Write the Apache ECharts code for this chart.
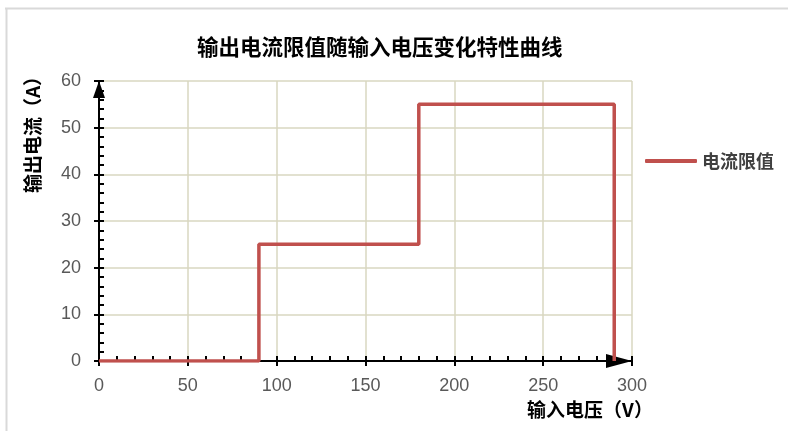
<!DOCTYPE html>
<html>
<head>
<meta charset="utf-8">
<script src="https://cdn.jsdelivr.net/npm/echarts@6/dist/echarts.min.js"></script>
<style>
  html, body { margin: 0; padding: 0; background: #fff; }
  #chart { width: 788px; height: 431px; }
</style>
</head>
<body>
<div id="chart"></div>
<script>
// 数据
var voltage = [0, 90, 90, 180, 180, 290, 290];
var current = [0, 0, 25, 25, 55, 55, 0];
var seriesName = '电流限值';
var titleText = '输出电流限值随输入电压变化特性曲线';
var xName = '输入电压（V）';
var yName = '输出电流（A）';

var cjk = '"Noto Sans CJK SC", "Noto Sans", sans-serif';
var num = '"Liberation Sans", "Noto Sans", sans-serif';
var gridColor = '#d9d7c0';

var chart = echarts.init(document.getElementById('chart'));

var points = voltage.map(function (v, i) { return [v, current[i]]; });

var baseX = { min: 0, max: 300, interval: 50, gridIndex: 0, position: 'bottom' };
var baseY = { min: 0, max: 60, interval: 10, gridIndex: 0, position: 'left' };

chart.setOption({
  animation: false,
  title: {
    text: titleText,
    left: 192,
    top: 31,
    textStyle: { fontFamily: cjk, fontSize: 21.5, fontWeight: 'bold', color: '#000' }
  },
  legend: {
    data: [seriesName],
    right: 9,
    top: 147,
    icon: 'roundRect',
    itemWidth: 52,
    itemHeight: 4,
    itemGap: 6,
    textStyle: { fontFamily: cjk, fontSize: 18, fontWeight: 'bold', color: '#404040' }
  },
  grid: { left: 99, right: 156, top: 81, bottom: 70, containLabel: false },
  xAxis: [
    Object.assign({}, baseX, {
      type: 'value',
      axisLine: { show: true, lineStyle: { color: '#000', width: 2 }, symbol: ['none', 'triangle'], symbolSize: [14, 26], symbolOffset: [0, -13] },
      axisTick: { show: true, inside: false, length: 5, lineStyle: { color: '#000', width: 2 } },
      minorTick: { show: false },
      axisLabel: { margin: 16, fontFamily: num, fontSize: 18, color: '#595959' },
      splitLine: { show: true, lineStyle: { color: gridColor, width: 1.5 } }
    }),
    Object.assign({}, baseX, {
      type: 'value',
      axisLine: { show: false },
      axisTick: { show: true, inside: true, length: 5, lineStyle: { color: '#000', width: 2 } },
      minorTick: { show: true, splitNumber: 5, length: 5, lineStyle: { color: '#000', width: 2 } },
      axisLabel: { show: false },
      splitLine: { show: false }
    })
  ],
  yAxis: [
    Object.assign({}, baseY, {
      type: 'value',
      axisLine: { show: true, lineStyle: { color: '#000', width: 2 }, symbol: ['none', 'triangle'], symbolSize: [12, 17], symbolOffset: [0, -8.5] },
      axisTick: { show: true, inside: false, length: 5, lineStyle: { color: '#000', width: 2 } },
      minorTick: { show: false },
      axisLabel: { margin: 18, fontFamily: num, fontSize: 18, color: '#595959' },
      splitLine: { show: true, lineStyle: { color: gridColor, width: 1.5 } }
    }),
    Object.assign({}, baseY, {
      type: 'value',
      axisLine: { show: false },
      axisTick: { show: true, inside: true, length: 5, lineStyle: { color: '#000', width: 2 } },
      minorTick: { show: true, splitNumber: 5, length: 5, lineStyle: { color: '#000', width: 2 } },
      axisLabel: { show: false },
      splitLine: { show: false }
    })
  ],
  series: [{
    name: seriesName,
    type: 'line',
    xAxisIndex: 0,
    yAxisIndex: 0,
    data: points,
    symbol: 'none',
    z: 5,
    lineStyle: { color: '#c0504d', width: 3.5 },
    itemStyle: { color: '#c0504d' }
  }],
  graphic: [
    { type: 'line', shape: { x1: 5, y1: 8.5, x2: 788, y2: 8.5 }, style: { stroke: '#d9d9d9', lineWidth: 2 } },
    { type: 'line', shape: { x1: 6.5, y1: 8, x2: 6.5, y2: 431 }, style: { stroke: '#d9d9d9', lineWidth: 2 } },
    {
      type: 'text', x: 33, y: 130, rotation: Math.PI / 2,
      style: { text: yName, fontFamily: cjk, fontSize: 19, fontWeight: 'bold', fill: '#000', align: 'center', verticalAlign: 'middle' }
    },
    {
      type: 'text', x: 590, y: 410,
      style: { text: xName, fontFamily: cjk, fontSize: 19, fontWeight: 'bold', fill: '#000', align: 'center', verticalAlign: 'middle' }
    }
  ]
});
</script>
</body>
</html>
